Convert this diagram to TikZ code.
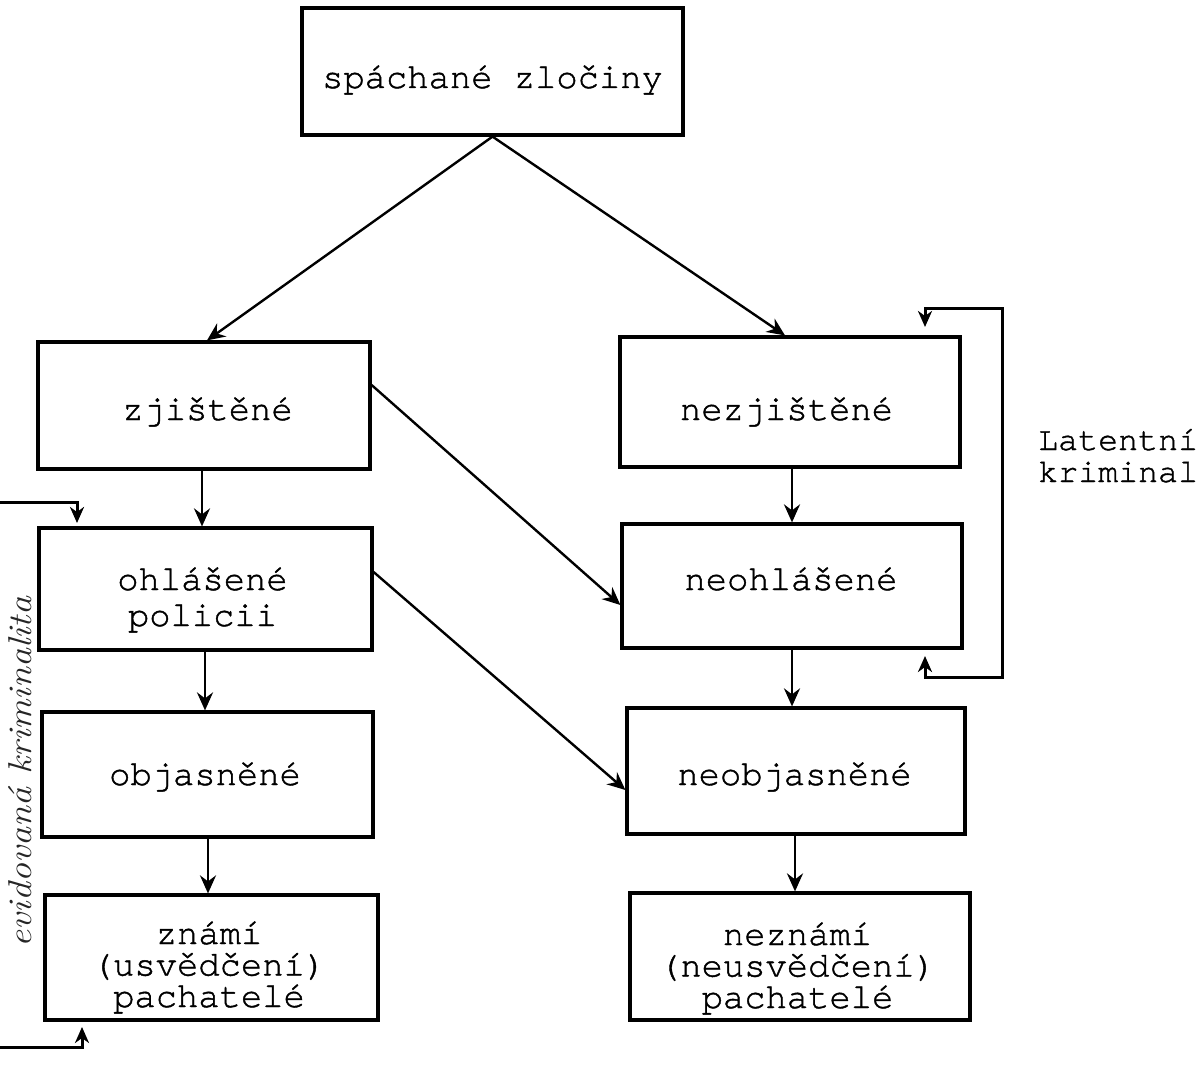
\documentclass[tikz,border=0pt]{standalone}
\usepackage{fontspec}
\newfontfamily\tw{texgyrecursor-regular.otf}[FakeBold=1.2]
\usetikzlibrary{arrows.meta}
\begin{document}
\begin{tikzpicture}[x=1pt,y=-1pt,
  box/.style={draw=black, line width=3.2pt, inner sep=0pt},
  txt/.style={anchor=base, inner sep=0pt, align=center, font=\tw\fontsize{35.5}{31.5}\selectfont},
  tip/.style={-{Stealth[length=18pt,width=16pt,inset=6pt]}},
  conn/.style={draw=black, line width=2.8pt, tip},
  diag/.style={draw=black, line width=2.4pt, tip},
  bracket/.style={draw=black, line width=3pt},
  tipboth/.style={{Stealth[length=16pt,width=14pt,inset=5pt]}-{Stealth[length=16pt,width=14pt,inset=5pt]}},
  sidelabel/.style={font=\tw\fontsize{33.3}{32}\selectfont, anchor=base west, inner sep=0pt},
  hand/.style={font=\itshape\fontsize{33}{33}\selectfont, inner sep=0pt, text=black!85}
]
\useasboundingbox[fill=white] (0,0) rectangle (1202,1065);

% boxes
\node[box, minimum width=381pt, minimum height=127pt] (top) at (492.5,71.5) {};
\node[box, minimum width=332pt, minimum height=127pt] (zj) at (204,405.5) {};
\node[box, minimum width=333pt, minimum height=122pt] (ohl) at (205.5,589) {};
\node[box, minimum width=331pt, minimum height=125pt] (obj) at (207.5,774.5) {};
\node[box, minimum width=333pt, minimum height=125pt] (zn) at (211.5,957.5) {};
\node[box, minimum width=340pt, minimum height=130pt] (nezj) at (790,402) {};
\node[box, minimum width=340pt, minimum height=124pt] (neohl) at (792,586) {};
\node[box, minimum width=338pt, minimum height=126pt] (neobj) at (796,771) {};
\node[box, minimum width=340pt, minimum height=127pt] (nezn) at (800,956.5) {};

% texts (anchor base = baseline of the last line)
\node[txt] (top-t) at (492.5,88) {spáchané zločiny};
\node[txt] (zj-t) at (207.5,420) {zjištěné};
\node[txt, font=\tw\fontsize{35.5}{36}\selectfont] (ohl-t) at (202.5,626) {ohlášené\\policii};
\node[txt] (obj-t) at (205,785) {objasněné};
\node[txt] (zn-t) at (209,1007) {známí\\(usvědčení)\\pachatelé};
\node[txt] (nezj-t) at (786.5,420) {nezjištěné};
\node[txt] (neohl-t) at (791,590) {neohlášené};
\node[txt] (neobj-t) at (794.5,785) {neobjasněné};
\node[txt] (nezn-t) at (797.5,1008) {neznámí\\(neusvědčení)\\pachatelé};

% connectors
\coordinate (apex) at (top.south);
\path[diag] (apex) -- ([xshift=3pt]zj.north);
\path[diag] (apex) -- ([xshift=-5pt]nezj.north);
\path[diag] ([yshift=20.5pt]zj.east) -- ([yshift=-19pt]neohl.west);
\path[diag] ([yshift=17pt]ohl.east) -- ([yshift=-19pt]neobj.west);
\path[conn] ([xshift=-2pt]zj.south) -- ([xshift=-2pt]zj.south |- ohl.north);
\path[conn] ([xshift=-0.5pt]ohl.south) -- ([xshift=-0.5pt]ohl.south |- obj.north);
\path[conn] ([xshift=0.5pt]obj.south) -- ([xshift=0.5pt]obj.south |- zn.north);
\path[conn] ([xshift=2pt]nezj.south) -- ([xshift=2pt]nezj.south |- neohl.north);
\path[conn] (neohl.south) -- (neohl.south |- neobj.north);
\path[conn] ([xshift=-1pt]neobj.south) -- ([xshift=-1pt]neobj.south |- nezn.north);

% right bracket (latent criminality)
\coordinate (rA) at (925,327);
\coordinate (rB) at (925,308);
\coordinate (rC) at (1002,308);
\coordinate (rD) at (1002,677);
\coordinate (rE) at (925,677);
\coordinate (rF) at (925,656);
\draw[bracket, tipboth] (rA) -- (rB) -- (rC) -- (rD) -- (rE) -- (rF);
\node[sidelabel] (lat1) at (1038,450) {Latentní};
\node[sidelabel] (lat2) at (1038,482) {kriminal};

% left bracket (recorded criminality)
\coordinate (lA) at (0,502);
\coordinate (lB) at (77,502);
\coordinate (lC) at (77,523);
\coordinate (lD) at (0,1047);
\coordinate (lE) at (82,1047);
\coordinate (lF) at (82,1027);
\draw[bracket, -{Stealth[length=16pt,width=14pt,inset=5pt]}] (lA) -- (lB) -- (lC);
\draw[bracket, -{Stealth[length=16pt,width=14pt,inset=5pt]}] (lD) -- (lE) -- (lF);
\node[hand, rotate=90, xscale=1.15] (evid) at (20,772) {evidovaná kriminalita};
\end{tikzpicture}
\end{document}
